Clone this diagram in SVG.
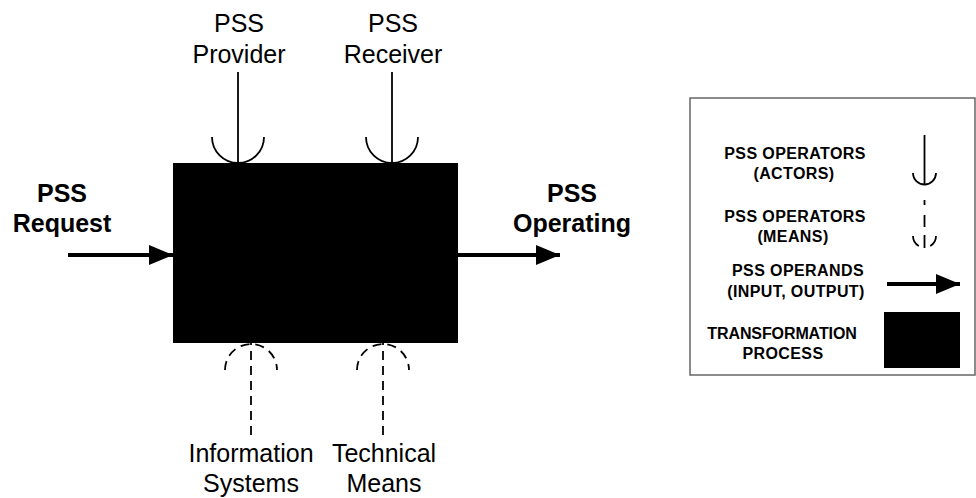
<svg xmlns="http://www.w3.org/2000/svg" width="976" height="498" viewBox="0 0 976 498">
<defs>
<style>
.lbl{font-family:"Liberation Sans",Arial,sans-serif;font-size:25px;fill:#000;text-anchor:middle}
.bold{font-weight:bold}
.leg{font-family:"Liberation Sans",Arial,sans-serif;font-size:16px;font-weight:bold;fill:#000;text-anchor:middle;letter-spacing:0.4px}
.solid{fill:none;stroke:#000;stroke-width:1.8}
.dash{fill:none;stroke:#000;stroke-width:1.8;stroke-dasharray:9 6}
.flow{fill:none;stroke:#000;stroke-width:4}
</style>
<marker id="ah" markerWidth="24" markerHeight="20" refX="24" refY="10" orient="auto" markerUnits="userSpaceOnUse">
<path d="M0,0 L24,10 L0,20 Z" fill="#000"/>
</marker>
</defs>
<rect width="976" height="498" fill="#fff"/>

<g id="process">
<rect x="173" y="163" width="285" height="180" fill="#000"/>
</g>

<g id="provider">
<text class="lbl" x="239" y="32">PSS</text>
<text class="lbl" x="239" y="63">Provider</text>
</g>
<g id="receiver">
<text class="lbl" x="393" y="32">PSS</text>
<text class="lbl" x="393" y="63">Receiver</text>
</g>
<g id="information-systems">
<text class="lbl" x="251" y="462">Information</text>
<text class="lbl" x="251" y="492">Systems</text>
</g>
<g id="technical-means">
<text class="lbl" x="384" y="462">Technical</text>
<text class="lbl" x="384" y="492">Means</text>
</g>
<g id="request">
<text class="lbl bold" x="62" y="202">PSS</text>
<text class="lbl bold" x="62" y="232">Request</text>
</g>
<g id="operating">
<text class="lbl bold" x="572" y="202">PSS</text>
<text class="lbl bold" x="572" y="232">Operating</text>
</g>

<g id="connectors">
<line class="solid" x1="238" y1="72" x2="238" y2="163"/>
<path class="solid" d="M212,137 A26,26 0 0 0 264,137"/>
<line class="solid" x1="392" y1="72" x2="392" y2="163"/>
<path class="solid" d="M366,137 A26,26 0 0 0 418,137"/>
<line class="dash" x1="251" y1="435" x2="251" y2="343"/>
<path class="dash" d="M225,370 A26,26 0 0 1 277,370"/>
<line class="dash" x1="383" y1="435" x2="383" y2="343"/>
<path class="dash" d="M357,370 A26,26 0 0 1 409,370"/>
<line class="flow" x1="68" y1="255" x2="173" y2="255" marker-end="url(#ah)"/>
<line class="flow" x1="458" y1="255" x2="560" y2="255" marker-end="url(#ah)"/>
</g>

<g id="legend">
<rect x="690" y="98" width="285" height="277" fill="#fff" stroke="#666" stroke-width="1.5"/>
<text class="leg" x="795" y="159">PSS OPERATORS</text>
<text class="leg" x="794" y="179">(ACTORS)</text>
<text class="leg" x="795" y="222">PSS OPERATORS</text>
<text class="leg" x="793" y="242">(MEANS)</text>
<text class="leg" x="798" y="276">PSS OPERANDS</text>
<text class="leg" x="796" y="297">(INPUT, OUTPUT)</text>
<text class="leg" x="782" y="339" style="letter-spacing:-0.1px">TRANSFORMATION</text>
<text class="leg" x="783" y="359">PROCESS</text>
<line class="solid" x1="924.5" y1="135" x2="924.5" y2="185" stroke-width="1.5"/>
<path class="solid" d="M913,173 A11.5,11.5 0 0 0 936,173" stroke-width="1.5"/>
<line class="solid" x1="924.5" y1="200" x2="924.5" y2="248" stroke-width="1.8" style="stroke-dasharray:5 10 12 8 13"/>
<path class="solid" d="M913,236 A11.5,11.5 0 0 0 936,236" stroke-width="1.8" style="stroke-dasharray:12 12 12"/>
<line class="flow" x1="887" y1="284" x2="960" y2="284" marker-end="url(#ah)"/>
<rect x="884" y="312" width="76" height="56" fill="#000"/>
</g>
</svg>
